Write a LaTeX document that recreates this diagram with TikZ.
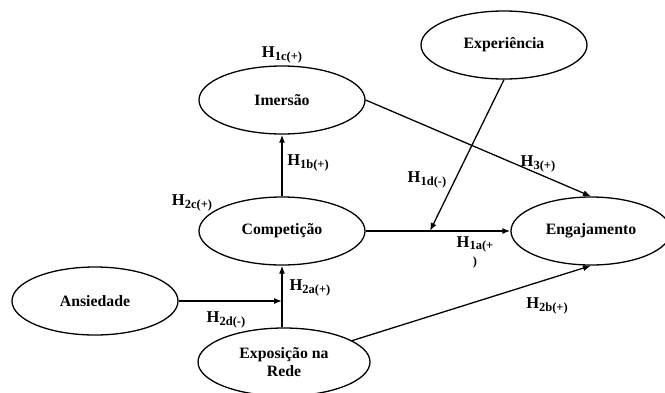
\documentclass[tikz,border=0pt]{standalone}
\usepackage{fontspec}
\setmainfont{Liberation Serif}
\usetikzlibrary{shapes.geometric, arrows.meta}
\tikzstyle{construct}=[ellipse, draw, line width=1.3pt, minimum width=166pt, minimum height=68pt, inner sep=0pt, align=center, font=\fontsize{15.8}{18}\selectfont\bfseries]
\tikzstyle{effect}=[line width=1.3pt, ->, >={Latex[length=8pt,width=6pt]}]
\tikzstyle{hlabel}=[inner sep=1pt, align=center, font=\fontsize{16.5}{18}\selectfont\bfseries]
\newcommand{\hyp}[1]{H\raisebox{-0.3ex}{\fontsize{12.5}{13}\selectfont #1}}

\begin{document}
\begin{tikzpicture}[x=1pt, y=-1pt]
                \useasboundingbox (0,0) rectangle (665,392);

                % Construtos
                \node[construct] (imm) at (282,100) {Imersão};
                \node[construct] (expe) at (504,45) {Experiência};
                \node[construct] (comp) at (282,231) {Competição};
                \node[construct, minimum width=160pt] (eng) at (591,231) {Engajamento};
                \node[construct] (ans) at (95,301) {Ansiedade};
                \node[construct, minimum width=172pt] (expo) at (284,362) {Exposição na\\Rede};

                % Pontos de moderação
                \coordinate (mod1) at (430,231);
                \coordinate (mod2) at (282,301);

                % Relações
                \draw[effect] (comp) -- (imm);
                \draw[effect] (imm.east) -- (eng.north);
                \draw[effect] (comp) -- (eng);
                \draw[effect] (expe.south) -- (mod1);
                \draw[effect] (ans) -- (mod2);
                \draw[effect] (expo.north -| comp) -- (comp);
                \draw[effect] (expo) -- (eng.south);

                % Hipóteses
                \node[hlabel] (h1c) at (282,55) {\hyp{1c(+)}};
                \node[hlabel] (h1b) at (308,163) {\hyp{1b(+)}};
                \node[hlabel] (h2c) at (192,203) {\hyp{2c(+)}};
                \node[hlabel] (h2a) at (310,288) {\hyp{2a(+)}};
                \node[hlabel] (h2d) at (226,320) {\hyp{2d(-)}};
                \node[hlabel] (h1d) at (427,180) {\hyp{1d(-)}};
                \node[hlabel] (h3) at (538,164) {\hyp{3(+)}};
                \node[hlabel] (h1a) at (475,252) {\hyp{1a(+}\\{\fontsize{12.5}{13}\selectfont )}};
                \node[hlabel] (h2b) at (547,306) {\hyp{2b(+)}};
\end{tikzpicture}
\end{document}
